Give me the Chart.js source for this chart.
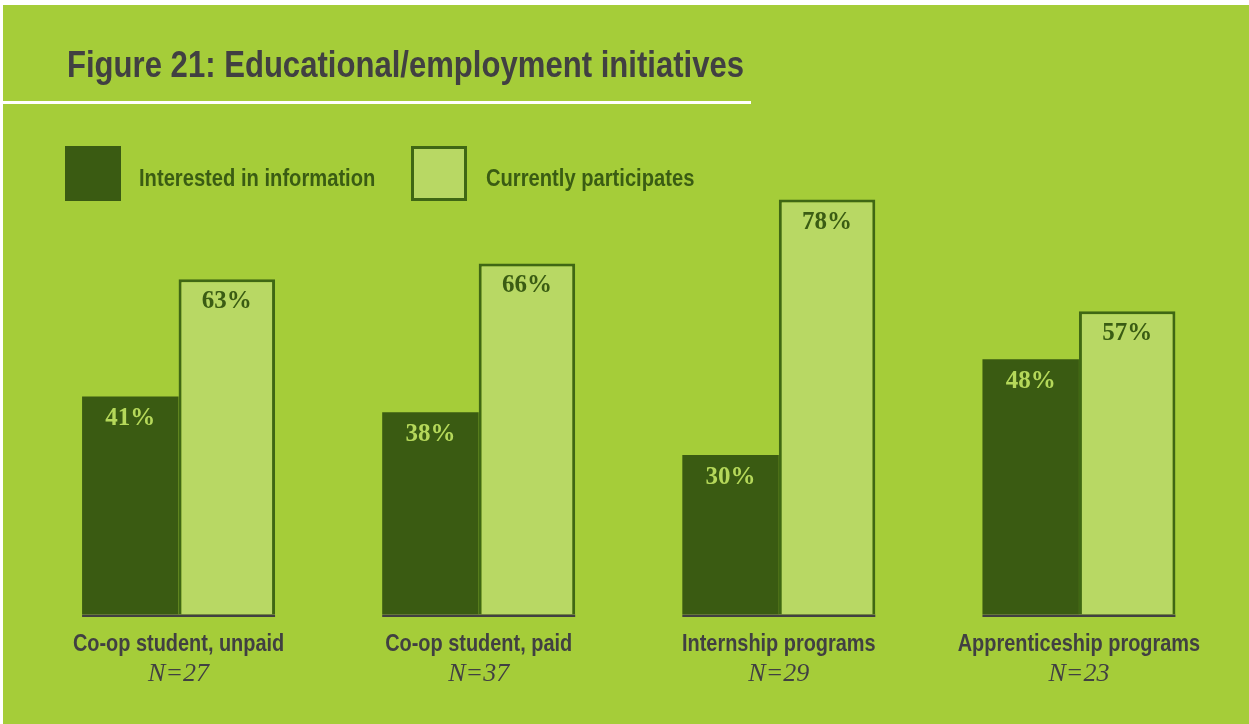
<!DOCTYPE html>
<html>
<head>
<meta charset="utf-8">
<script src="https://cdn.jsdelivr.net/npm/chart.js@4/dist/chart.umd.min.js"></script>
<style>
  html, body { margin: 0; padding: 0; background: #ffffff; }
  #page {
    position: relative;
    width: 1246px;
    height: 719px;
    margin: 5px 0 0 3px;
    background: #a5cd39;
    overflow: hidden;
  }
  #chart { position: absolute; left: -3px; top: -5px; }
  /* condensed look: Arial-metric bold squeezed horizontally */
  .narrow {
    font-family: "Liberation Sans", Arial, sans-serif;
    font-weight: bold;
    transform: scaleX(0.84);
    transform-origin: left center;
  }
  #title {
    position: absolute; left: 64px; top: 40px;
    font-size: 37px; line-height: 40px; color: #414042; white-space: nowrap;
  }
  #rule { position: absolute; left: -3px; top: 96px; width: 751px; height: 3px; background: #ffffff; }
  .swatch { position: absolute; top: 141px; width: 56px; height: 55px; box-sizing: border-box; }
  .legend-text { position: absolute; top: 159px; font-size: 24px; line-height: 28px; color: #3a5c13; white-space: nowrap; }
</style>
</head>
<body>
<div id="page">
  <canvas id="chart" width="1249" height="724"></canvas>
  <div id="title" class="narrow">Figure 21: Educational/employment initiatives</div>
  <div id="rule"></div>
  <div id="legend"></div>
</div>
<script>
// ─── Data ───────────────────────────────────────────────────

const categories = ['Co-op student, unpaid', 'Co-op student, paid', 'Internship programs', 'Apprenticeship programs'];
const sampleSizes = ['N=27', 'N=37', 'N=29', 'N=23'];
const seriesLabels = ['Interested in information', 'Currently participates'];
const interested = [41, 38, 30, 48];
const participates = [63, 66, 78, 57];

// ─── Palette ────────────────────────────────────────────────

const DARK = '#3a5b12';
const LIGHT = '#b8d864';
const EDGE = '#3f6714';
const INK = '#414042';
const SANS = '"Liberation Sans", Arial, sans-serif';
const SERIF = '"Liberation Serif", "DejaVu Serif", serif';
const SQUEEZE = 0.83;

// ─── Legend (HTML) ──────────────────────────────────────────

function buildLegend() {
  const box = document.getElementById('legend');
  const swatchX = [62, 408];
  const textX = [136, 483];
  const fills = [DARK, LIGHT];
  seriesLabels.forEach((label, i) => {
    const sw = document.createElement('div');
    sw.className = 'swatch';
    sw.style.left = swatchX[i] + 'px';
    sw.style.background = fills[i];
    if (i === 1) sw.style.border = '3px solid ' + EDGE;
    box.appendChild(sw);

    const tx = document.createElement('div');
    tx.className = 'legend-text narrow';
    tx.style.left = textX[i] + 'px';
    tx.textContent = label;
    box.appendChild(tx);
  });
}

// ─── Annotations plugin ─────────────────────────────────────

function narrowText(ctx, text, x, y) {
  ctx.save();
  ctx.translate(x, y);
  ctx.scale(SQUEEZE, 1);
  ctx.fillText(text, 0, 0);
  ctx.restore();
}

const groupAnnotations = {
  id: 'groupAnnotations',
  afterDatasetsDraw(chart) {
    const { ctx, chartArea, scales } = chart;
    const dark = chart.getDatasetMeta(0).data;
    const light = chart.getDatasetMeta(1).data;
    ctx.save();

    // value labels inside the top of each bar
    ctx.textAlign = 'center';
    ctx.textBaseline = 'alphabetic';
    ctx.font = 'bold 25px ' + SERIF;
    [dark, light].forEach((bars, d) => {
      ctx.fillStyle = d === 0 ? '#b5d85a' : '#3a5c13';
      const values = chart.data.datasets[d].data;
      bars.forEach((bar, i) => {
        ctx.fillText(values[i] + '%', bar.x, bar.y + 29);
      });
    });

    // baseline under each pair of bars
    ctx.strokeStyle = INK;
    ctx.lineWidth = 2.5;
    dark.forEach((bar, i) => {
      const left = bar.x - bar.width / 2;
      const right = light[i].x + light[i].width / 2;
      ctx.beginPath();
      ctx.moveTo(left, chartArea.bottom + 1.2);
      ctx.lineTo(right, chartArea.bottom + 1.2);
      ctx.stroke();
    });

    // category names and sample sizes
    ctx.fillStyle = INK;
    categories.forEach((name, i) => {
      const x = scales.x.getPixelForValue(i);
      ctx.font = 'bold 24px ' + SANS;
      narrowText(ctx, name, x, chartArea.bottom + 36);
      ctx.font = 'italic 26px ' + SERIF;
      ctx.fillText(sampleSizes[i], x, chartArea.bottom + 66);
    });

    ctx.restore();
  },
};

// ─── Chart ──────────────────────────────────────────────────

function renderChart() {
  const canvas = document.getElementById('chart');
  new Chart(canvas, {
    type: 'bar',
    data: {
      labels: categories,
      datasets: [
        {
          label: seriesLabels[0],
          data: interested,
          backgroundColor: DARK,
          borderWidth: 0,
        },
        {
          label: seriesLabels[1],
          data: participates,
          backgroundColor: LIGHT,
          borderColor: EDGE,
          borderWidth: 3,
          borderSkipped: 'bottom',
        },
      ],
    },
    options: {
      responsive: false,
      devicePixelRatio: 1,
      animation: false,
      categoryPercentage: 0.643,
      barPercentage: 1,
      layout: { padding: { left: 28.5, right: 20, top: 82.5, bottom: 109.5 } },
      plugins: {
        legend: { display: false },
        tooltip: { enabled: false },
      },
      scales: {
        x: { display: false },
        y: { display: false, min: 0, max: 100 },
      },
    },
    plugins: [groupAnnotations],
  });
}

buildLegend();
renderChart();
</script>
</body>
</html>
